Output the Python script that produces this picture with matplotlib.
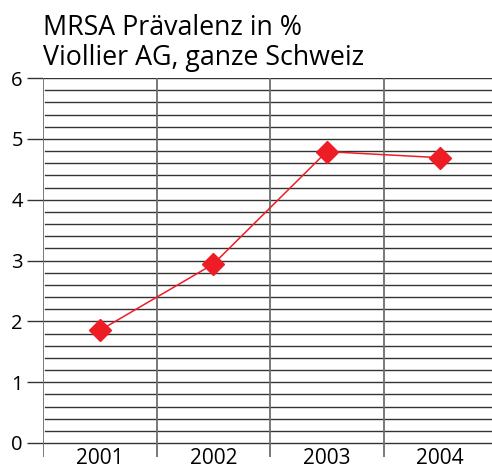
import numpy as np
import matplotlib
matplotlib.use("Agg")
import matplotlib.pyplot as plt

# Data
years = ["2001", "2002", "2003", "2004"]
mrsa_pct = [1.85, 2.94, 4.79, 4.69]
y_ticks = [0, 1, 2, 3, 4, 5, 6]

title_lines = ["MRSA Prävalenz in %", "Viollier AG, ganze Schweiz"]

# Styling
FONT = "Open Sans"
COL_LINE = "#ee1c25"
COL_GRID = "#333333"
COL_VERT = "#6e6e6e"
W, H = 492, 466

plt.rcParams["font.family"] = [FONT, "DejaVu Sans"]

fig = plt.figure(figsize=(W / 100, H / 100), dpi=100)

# axes placed in pixel terms: y=6 at px 78, y=0 at px 443, left at px 43
unit = (443 - 78) / 6.0
ymin = -(457 - 443) / unit
left_px, top_px, bot_px = 43, 78, 457
width_px = 4 * 113.5
ax = fig.add_axes([left_px / W, 1 - bot_px / H, width_px / W, (bot_px - top_px) / H])

x = np.arange(len(years)) + 0.5
ax.plot(x, mrsa_pct, color=COL_LINE, lw=1.1, marker="D", ms=11,
        mec=COL_LINE, mfc=COL_LINE, zorder=5, clip_on=False)

ax.set_xlim(0, len(years))
ax.set_ylim(ymin, 6)

# horizontal grid every 0.2; minor lines start just right of the axis
x_start = 2 / width_px
for yv in np.arange(0, 6.01, 0.2):
    major = abs(yv - round(yv)) < 1e-6
    ax.axhline(yv, xmin=0 if major else x_start, color=COL_GRID, lw=1.0, zorder=1)
for xv in range(0, len(years)):
    ax.axvline(xv, color=COL_VERT, lw=1.3, zorder=2)

ax.set_yticks(y_ticks)
ax.set_yticklabels([str(t) for t in y_ticks], fontsize=14.5)
ax.tick_params(axis="y", length=11.5, width=1.0, color=COL_GRID, pad=3)
ax.set_xticks(x)
ax.set_xticklabels(years, fontsize=15)
ax.tick_params(axis="x", length=0, pad=-6.5)

for s in ax.spines.values():
    s.set_visible(False)

fig.text(left_px / W, 1 - 35 / H, title_lines[0], fontsize=19.3,
         ha="left", va="baseline")
fig.text(left_px / W, 1 - 65 / H, title_lines[1], fontsize=19.3,
         ha="left", va="baseline")

fig.savefig("out.png", dpi=100)
